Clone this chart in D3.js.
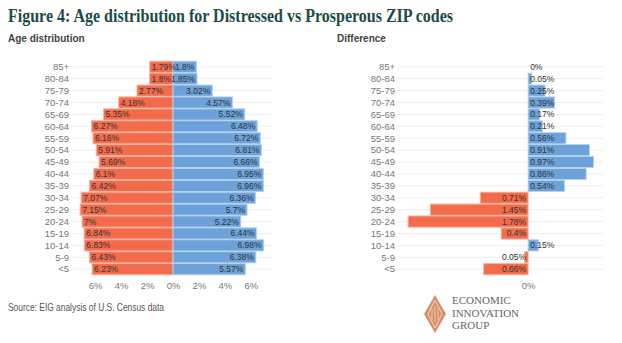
<!DOCTYPE html>
<html>
<head>
<meta charset="utf-8">
<script src="https://cdn.jsdelivr.net/npm/d3@7"></script>
<style>
  body { margin: 0; background: #fff; }
  svg text { font-family: "Liberation Sans", Arial, sans-serif; }
</style>
</head>
<body>
<svg id="chart" width="622" height="343"></svg>
<script>
const ages = ["85+", "80-84", "75-79", "70-74", "65-69", "60-64", "55-59", "50-54", "45-49",
  "40-44", "35-39", "30-34", "25-29", "20-24", "15-19", "10-14", "5-9", "<5"];
const distressed = [1.79, 1.8, 2.77, 4.18, 5.35, 6.27, 6.16, 5.91, 5.69,
  6.1, 6.42, 7.07, 7.15, 7, 6.84, 6.83, 6.43, 6.23];
const prosperous = [1.8, 1.85, 3.02, 4.57, 5.52, 6.48, 6.72, 6.81, 6.66,
  6.95, 6.96, 6.36, 5.7, 5.22, 6.44, 6.98, 6.38, 5.57];
const difference = [0, 0.05, 0.25, 0.39, 0.17, 0.21, 0.56, 0.91, 0.97,
  0.86, 0.54, -0.71, -1.45, -1.78, -0.4, 0.15, -0.05, -0.66];
const leftTicks = [-6, -4, -2, 0, 2, 4, 6];
const rightTicks = [0];

const RED = "#f26b4a", BLUE = "#6ca2d9";
const svg = d3.select("#chart");
const fmt = v => d3.format(".3~r")(Math.abs(v)) + "%";

svg.append("text").attr("x", 8).attr("y", 22)
  .style("font-family", "'Liberation Serif', serif").style("font-weight", "bold")
  .style("font-size", "19.5px").attr("fill", "#1d4b47")
  .attr("textLength", 445).attr("lengthAdjust", "spacingAndGlyphs")
  .text("Figure 4: Age distribution for Distressed vs Prosperous ZIP codes");

svg.append("text").attr("x", 8).attr("y", 42).attr("font-size", 10).attr("font-weight", "bold")
  .attr("fill", "#444").text("Age distribution");
svg.append("text").attr("x", 337).attr("y", 42).attr("font-size", 10).attr("font-weight", "bold")
  .attr("fill", "#444").text("Difference");

const y = d3.scaleBand().domain(ages).range([61, 275]).paddingInner(0.06).paddingOuter(0.02);

function rowsAndGrid(x0, x1, labelX) {
  const g = svg.append("g");
  g.selectAll(".grid").data(ages).join("line")
    .attr("x1", x0).attr("x2", x1)
    .attr("y1", d => y(d) + y.bandwidth() / 2).attr("y2", d => y(d) + y.bandwidth() / 2)
    .attr("stroke", "#eeeeee").attr("stroke-width", 1);
  g.selectAll(".lab").data(ages).join("text")
    .attr("x", labelX).attr("y", d => y(d) + y.bandwidth() / 2).attr("dy", "0.35em")
    .attr("text-anchor", "end").attr("font-size", 9.5).attr("fill", "#777").text(d => d);
}

// Left panel: population pyramid
const xL = d3.scaleLinear().domain([-7.7, 7.7]).range([73, 273]);
rowsAndGrid(73, 273, 69);

const left = svg.append("g");
left.selectAll(".red").data(ages).join("rect")
  .attr("x", (d, i) => xL(-distressed[i])).attr("y", d => y(d))
  .attr("width", (d, i) => xL(0) - xL(-distressed[i])).attr("height", y.bandwidth())
  .attr("fill", RED).attr("stroke", "#f9b3a3").attr("stroke-width", 1);
left.selectAll(".blue").data(ages).join("rect")
  .attr("x", xL(0)).attr("y", d => y(d))
  .attr("width", (d, i) => xL(prosperous[i]) - xL(0)).attr("height", y.bandwidth())
  .attr("fill", BLUE).attr("stroke", "#b5d1ee").attr("stroke-width", 1);
left.selectAll(".redlab").data(ages).join("text")
  .attr("x", (d, i) => xL(-distressed[i]) + 2).attr("y", d => y(d) + y.bandwidth() / 2).attr("dy", "0.35em")
  .attr("font-size", 8.5).attr("fill", "#333").text((d, i) => fmt(distressed[i]));
left.selectAll(".bluelab").data(ages).join("text")
  .attr("x", (d, i) => xL(prosperous[i]) - 2).attr("y", d => y(d) + y.bandwidth() / 2).attr("dy", "0.35em")
  .attr("text-anchor", "end").attr("font-size", 8.5).attr("fill", "#333").text((d, i) => fmt(prosperous[i]));

const axL = svg.append("g").attr("transform", "translate(0,277)")
  .call(d3.axisBottom(xL).tickValues(leftTicks).tickSize(0).tickFormat(d => Math.abs(d) + "%"));
axL.select(".domain").remove();
axL.selectAll("text").attr("font-size", 9.5).attr("fill", "#777").attr("dy", "0.9em");

// Right panel: difference
const xR = d3.scaleLinear().domain([-1.93, 1.11]).range([398, 603]);
rowsAndGrid(398, 603, 395);

const right = svg.append("g");
right.selectAll(".diff").data(ages).join("rect")
  .attr("x", (d, i) => xR(Math.min(0, difference[i]))).attr("y", d => y(d))
  .attr("width", (d, i) => Math.abs(xR(difference[i]) - xR(0))).attr("height", y.bandwidth())
  .attr("fill", (d, i) => difference[i] < 0 ? RED : BLUE)
  .attr("stroke", (d, i) => difference[i] < 0 ? "#f9b3a3" : "#b5d1ee").attr("stroke-width", 1);
right.selectAll(".difflab").data(ages).join("text")
  .attr("x", (d, i) => difference[i] < 0 ? xR(0) - 2 : xR(0) + 2)
  .attr("y", d => y(d) + y.bandwidth() / 2).attr("dy", "0.35em")
  .attr("text-anchor", (d, i) => difference[i] < 0 ? "end" : "start")
  .attr("font-size", 8.5).attr("fill", "#333").text((d, i) => fmt(difference[i]));

const axR = svg.append("g").attr("transform", "translate(0,277)")
  .call(d3.axisBottom(xR).tickValues(rightTicks).tickSize(0).tickFormat(d => d + "%"));
axR.select(".domain").remove();
axR.selectAll("text").attr("font-size", 9.5).attr("fill", "#777").attr("dy", "0.9em");

// Footer
svg.append("text").attr("x", 8).attr("y", 311).attr("font-size", 10.5).attr("fill", "#555")
  .attr("textLength", 156).attr("lengthAdjust", "spacingAndGlyphs")
  .text("Source: EIG analysis of U.S. Census data");

// Logo
const logo = svg.append("g").attr("transform", "translate(435,314)");
logo.append("path").attr("d", "M0,-19 L11,0 L0,19 L-11,0 Z").attr("fill", "#d99068");
logo.append("path").attr("d", "M0,-14 L7,0 L0,14 L-7,0 Z").attr("fill", "none")
  .attr("stroke", "#f3d6c4").attr("stroke-width", 1);
logo.append("path").attr("d", "M-3,-6 V6 M0,-8 V8 M3,-6 V6").attr("stroke", "#f3d6c4").attr("stroke-width", 0.8);
const logoText = ["ECONOMIC", "INNOVATION", "GROUP"];
svg.append("g").selectAll("text").data(logoText).join("text")
  .attr("x", 452).attr("y", (d, i) => 304 + i * 12.5)
  .style("font-family", "'Liberation Serif', serif").attr("font-size", 11).attr("fill", "#666")
  .text(d => d);
</script>
</body>
</html>
